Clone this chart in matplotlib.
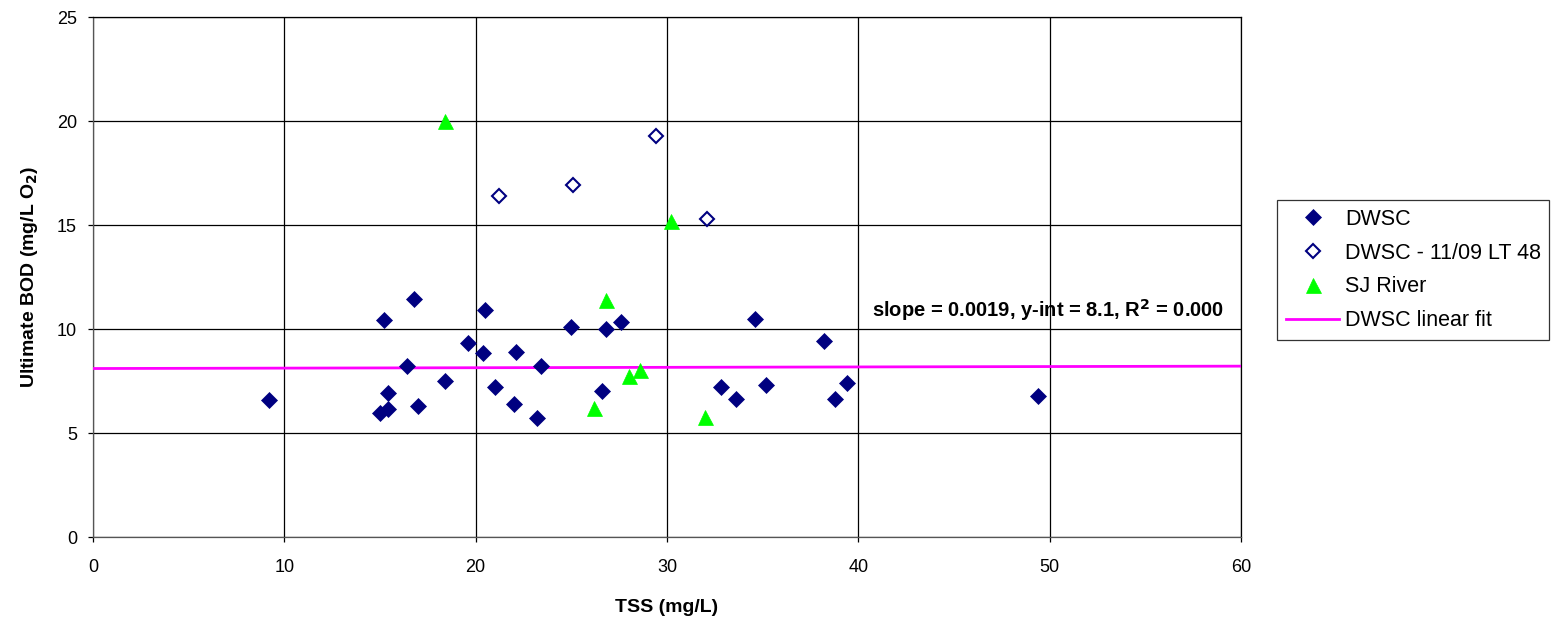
import matplotlib
matplotlib.use("Agg")
import matplotlib.pyplot as plt
import numpy as np

plt.rcParams['font.family'] = ['Liberation Sans', 'DejaVu Sans']

# DWSC data
dwsc_tss = [9.2, 15.0, 15.4, 15.4, 15.2, 16.4, 16.8, 17.0, 18.4, 19.6, 20.4, 20.5, 21.0,
            22.0, 22.1, 23.2, 23.4, 25.0, 26.6, 26.8, 27.6, 32.8, 33.6, 35.2, 34.6, 38.2,
            38.8, 39.4, 49.4]
dwsc_bod = [6.6, 5.95, 6.15, 6.9, 10.45, 8.2, 11.45, 6.3, 7.5, 9.35, 8.85, 10.9, 7.2,
            6.4, 8.9, 5.7, 8.2, 10.1, 7.0, 10.0, 10.35, 7.2, 6.65, 7.3, 10.5, 9.4,
            6.65, 7.4, 6.8]

# DWSC - 11/09 LT 48
lt48_tss = [21.2, 25.1, 29.4, 32.1]
lt48_bod = [16.4, 16.9, 19.3, 15.3]

# SJ River
sj_tss = [18.4, 30.2, 26.8, 28.6, 28.0, 26.2, 32.0]
sj_bod = [20.0, 15.2, 11.4, 8.05, 7.75, 6.2, 5.75]

# Linear fit
fit_slope = 0.0019
fit_int = 8.1
fit_x = [0, 60]

W, H = 1554, 623
fig = plt.figure(figsize=(W / 100, H / 100), dpi=100)
ax = fig.add_axes([93 / W, 1 - 537 / H, (1241 - 93) / W, (537 - 17) / H])

ax.plot(dwsc_tss, dwsc_bod, linestyle='none', marker='D', markersize=8,
        color='#000080', markeredgecolor='#000080', markeredgewidth=0.5,
        label='DWSC', zorder=4)
ax.plot(lt48_tss, lt48_bod, linestyle='none', marker='D', markersize=7.5,
        markerfacecolor='white', markeredgecolor='#000080', markeredgewidth=1.5,
        label='DWSC - 11/09 LT 48', zorder=4)
ax.plot(sj_tss, sj_bod, linestyle='none', marker='^', markersize=10.8,
        color='#00FF00', markeredgecolor='#00FF00', markeredgewidth=0.5,
        label='SJ River', zorder=4)
fit_y = [fit_int + fit_slope * v for v in fit_x]
ax.plot(fit_x, fit_y, color='#FF00FF', linewidth=2, label='DWSC linear fit', zorder=3)

ax.set_xlim(0, 60)
ax.set_ylim(0, 25)
ax.set_xticks(np.arange(0, 61, 10))
ax.set_yticks(np.arange(0, 26, 5))
ax.grid(True, color='black', linewidth=0.9)
ax.set_axisbelow(True)
for s in ax.spines.values():
    s.set_color('black')
    s.set_linewidth(0.9)
ax.spines['left'].set_color('#555555')
ax.spines['bottom'].set_color('#555555')
ax.tick_params(direction='out', length=3.6, width=0.9, labelsize=13, colors='black')
ax.tick_params(axis='x', pad=12)
ax.tick_params(axis='y', pad=8)

ax.set_xlabel('TSS (mg/L)', fontsize=14, fontweight='bold')
ax.xaxis.set_label_coords(0.5, (537 - 607) / 520)
ax.xaxis.label.set_va('center')
ax.set_ylabel('Ultimate BOD (mg/L O$_\\mathbf{2}$)', fontsize=14, fontweight='bold')
ax.yaxis.set_label_coords((30 - 93) / 1148, 0.5)
ax.yaxis.label.set_va('center')

ax.text(40.7, 10.9, 'slope = 0.0019, y-int = 8.1, R$^\\mathbf{2}$ = 0.000',
        fontsize=14.5, fontweight='bold', va='center', ha='left', clip_on=False, zorder=5)

leg = fig.legend(loc='upper left', bbox_to_anchor=(1277 / W, 1 - 200 / H), fontsize=15.5,
                 frameon=True, fancybox=False, edgecolor='black', borderpad=0.4,
                 borderaxespad=0, labelspacing=0.6, handlelength=2.5, handletextpad=0.25)
leg.get_frame().set_linewidth(0.9)

fig.savefig('out.png', dpi=100)
